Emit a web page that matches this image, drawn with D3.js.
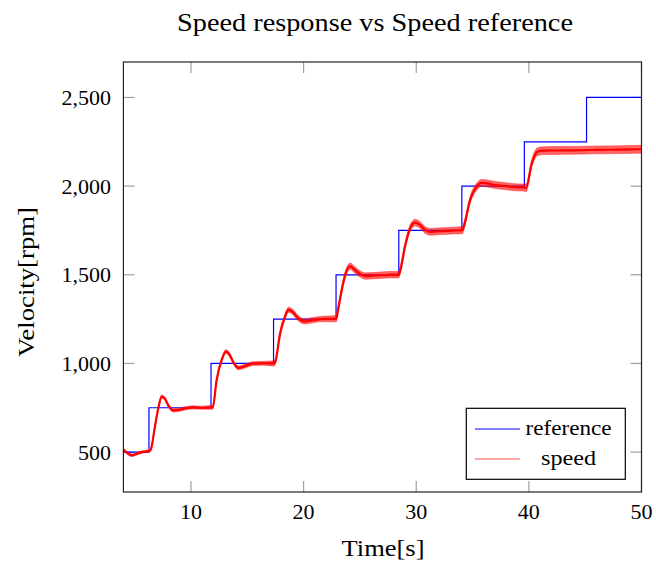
<!DOCTYPE html>
<html>
<head>
<meta charset="utf-8">
<script src="https://cdn.jsdelivr.net/npm/d3@7"></script>
<style>
  html, body { margin: 0; padding: 0; background: #fff; }
  text { font-family: "Liberation Serif", "DejaVu Serif", serif; fill: #000; }
</style>
</head>
<body>
<svg id="chart" width="656" height="565"></svg>
<script>
// Speed reference: step times [s] and the level held from each time on [rpm]
const refTimes  = [4, 6.27, 11.78, 17.33, 22.88, 28.45, 34.05, 39.6, 45.12, 50];
const refLevels = [500, 750, 1000, 1250, 1500, 1750, 2000, 2250, 2500, 2500];

// Measured speed response: sample times [s] and speed [rpm]
const speedTimes = [
  4.0, 4.4, 4.75, 5.2, 5.7, 6.25, 6.42, 6.8, 7.1, 7.4, 7.7, 8.0, 8.45, 8.9, 9.5, 10.2, 11.0, 11.8,
  11.93, 12.28, 12.73, 13.1, 13.4, 13.75, 14.2, 14.8, 15.5, 16.5, 17.38,
  17.5, 17.9, 18.35, 18.65, 19.0, 19.5, 20.1, 20.8, 21.5, 22.9,
  23.05, 23.5, 23.8, 24.15, 24.5, 25.0, 25.5, 26.5, 27.5, 28.45,
  28.6, 29.0, 29.45, 29.9, 30.3, 30.8, 31.3, 32.2, 33.2, 34.1,
  34.3, 34.78, 35.37, 35.8, 36.3, 37.0, 37.8, 38.7, 39.55,
  39.75, 40.26, 40.76, 41.3, 42.5, 44.0, 46.0, 48.0, 50.0
];
const speedValues = [
  515, 492, 482, 491, 501, 506, 513, 644, 748, 813, 800, 762, 735, 738, 747, 752, 750, 752,
  752, 907, 1020, 1067, 1052, 1008, 975, 985, 999, 1001, 1000,
  1012, 1165, 1264, 1302, 1292, 1256, 1237, 1244, 1250, 1252,
  1300, 1450, 1520, 1548, 1530, 1505, 1493, 1496, 1500, 1501,
  1530, 1659, 1762, 1794, 1783, 1752, 1742, 1746, 1749, 1752,
  1790, 1922, 1997, 2018, 2015, 2006, 2001, 1994, 1992,
  1990, 2129, 2194, 2200, 2201, 2202, 2204, 2206, 2208
];
// Ripple half-width on the speed trace while each reference level is held [rpm]
const rippleByLevel = [7, 9, 11, 15, 18, 19, 20, 22, 22];

const xTicks = [10, 20, 30, 40, 50];
const yTicks = [500, 1000, 1500, 2000, 2500];

const svg = d3.select("#chart");
const plotLeft = 123.4, plotRight = 641.5, plotTop = 62, plotBottom = 492;

const x = d3.scaleLinear().domain([4, 50]).range([plotLeft, plotRight]);
const y = d3.scaleLinear().domain([275, 2700]).range([plotBottom, plotTop]);

const defs = svg.append("defs");
defs.append("clipPath").attr("id", "plot-clip")
  .append("rect").attr("x", plotLeft).attr("y", plotTop)
  .attr("width", plotRight - plotLeft).attr("height", plotBottom - plotTop);
defs.append("filter").attr("id", "soft")
  .append("feGaussianBlur").attr("stdDeviation", 0.6);

// grey inward ticks on all four sides
const tickLen = 11;
const ticks = svg.append("g").attr("stroke", "#a0a0a0").attr("stroke-width", 1.2);
xTicks.forEach(t => {
  ticks.append("line").attr("x1", x(t)).attr("x2", x(t)).attr("y1", plotBottom).attr("y2", plotBottom - tickLen);
  ticks.append("line").attr("x1", x(t)).attr("x2", x(t)).attr("y1", plotTop).attr("y2", plotTop + tickLen);
});
yTicks.forEach(v => {
  ticks.append("line").attr("x1", plotLeft).attr("x2", plotLeft + tickLen).attr("y1", y(v)).attr("y2", y(v));
  ticks.append("line").attr("x1", plotRight).attr("x2", plotRight - tickLen).attr("y1", y(v)).attr("y2", y(v));
});

const plot = svg.append("g").attr("clip-path", "url(#plot-clip)");

// reference: staircase
const refData = refTimes.map((t, i) => ({ t, v: refLevels[i] }));
plot.append("path")
  .datum(refData)
  .attr("fill", "none")
  .attr("stroke", "#0000ff")
  .attr("stroke-width", 1.2)
  .attr("d", d3.line().x(d => x(d.t)).y(d => y(d.v)).curve(d3.curveStepAfter));

// speed: ripple band and centre trace
const levelIndex = t => Math.max(0, d3.bisectRight(refTimes, t) - 1);
const speedData = speedTimes.map((t, i) => ({
  t, v: speedValues[i], r: rippleByLevel[Math.min(levelIndex(t), rippleByLevel.length - 1)]
}));
plot.append("path")
  .datum(speedData)
  .attr("fill", "#ff0000")
  .attr("fill-opacity", 0.6)
  .attr("stroke", "#ff2020")
  .attr("stroke-opacity", 0.45)
  .attr("stroke-width", 1)
  .attr("filter", "url(#soft)")
  .attr("d", d3.area().x(d => x(d.t)).y0(d => y(d.v - d.r)).y1(d => y(d.v + d.r)).curve(d3.curveMonotoneX));
plot.append("path")
  .datum(speedData)
  .attr("fill", "none")
  .attr("stroke", "#ff0000")
  .attr("stroke-width", 2.2)
  .attr("d", d3.line().x(d => x(d.t)).y(d => y(d.v)).curve(d3.curveMonotoneX));

// frame
svg.append("rect").attr("x", plotLeft).attr("y", plotTop)
  .attr("width", plotRight - plotLeft).attr("height", plotBottom - plotTop)
  .attr("fill", "none").attr("stroke", "#222").attr("stroke-width", 1.2);

// tick labels
const fmt = d3.format(",");
svg.append("g").selectAll("text").data(xTicks).join("text")
  .attr("x", d => x(d)).attr("y", 519)
  .attr("text-anchor", "middle").attr("font-size", 22)
  .text(d => d);
svg.append("g").selectAll("text").data(yTicks).join("text")
  .attr("x", 111).attr("y", d => y(d) + 7.5)
  .attr("text-anchor", "end").attr("font-size", 22)
  .text(d => fmt(d));

// titles
svg.append("text").attr("x", 375).attr("y", 31)
  .attr("text-anchor", "middle").attr("font-size", 26)
  .attr("textLength", 396).attr("lengthAdjust", "spacingAndGlyphs")
  .text("Speed response vs Speed reference");
svg.append("text").attr("x", 383).attr("y", 556)
  .attr("text-anchor", "middle").attr("font-size", 23)
  .attr("textLength", 83).attr("lengthAdjust", "spacingAndGlyphs")
  .text("Time[s]");
svg.append("text")
  .attr("transform", "translate(34,282) rotate(-90)")
  .attr("text-anchor", "middle").attr("font-size", 23)
  .attr("textLength", 150).attr("lengthAdjust", "spacingAndGlyphs")
  .text("Velocity[rpm]");

// legend
const legend = svg.append("g");
legend.append("rect").attr("x", 466.3).attr("y", 408.3)
  .attr("width", 159).attr("height", 71)
  .attr("fill", "#fff").attr("stroke", "#000").attr("stroke-width", 1.2);
const legendItems = [
  { name: "reference", color: "#0000ff", op: 1, w: 86 },
  { name: "speed", color: "#ff0000", op: 0.7, w: 55 }
];
legendItems.forEach((d, i) => {
  const ly = 429 + i * 30;
  legend.append("line").attr("x1", 475).attr("x2", 520).attr("y1", ly).attr("y2", ly)
    .attr("stroke", d.color).attr("stroke-opacity", d.op).attr("stroke-width", 1.2);
  legend.append("text").attr("x", 568.5).attr("y", ly + 6)
    .attr("text-anchor", "middle").attr("font-size", 21)
    .attr("textLength", d.w).attr("lengthAdjust", "spacingAndGlyphs").text(d.name);
});
</script>
</body>
</html>
